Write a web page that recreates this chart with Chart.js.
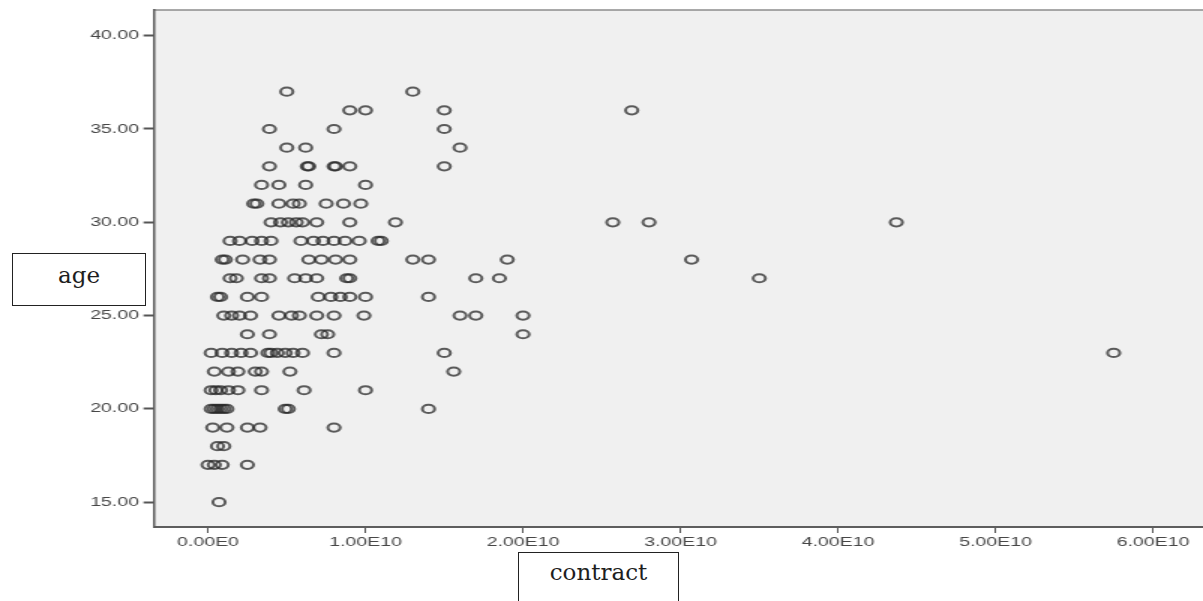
<!DOCTYPE html>
<html>
<head>
<meta charset="utf-8">
<script src="https://cdn.jsdelivr.net/npm/chart.js@4"></script>
<style>
html,body{margin:0;padding:0;background:#fff;width:1203px;height:601px;overflow:hidden;position:relative}
#wrap{position:absolute;left:0;top:0;width:802px;height:601px;transform:scaleX(1.5);transform-origin:0 0}
.box{position:absolute;border:1.5px solid #222;background:#fff;font-family:"DejaVu Serif",serif;font-size:23px;line-height:23px;color:#1e1e1e;box-sizing:border-box;text-align:center}
</style>
</head>
<body>
<div id="wrap"><canvas id="c" width="802" height="601"></canvas></div>
<div class="box" style="left:12px;top:253px;width:134px;height:53px;padding-top:10px;">age</div>
<div class="box" style="left:518px;top:552px;width:161px;height:60px;padding-top:8px;">contract</div>
<script>
// ---- data ----
const ages = [37, 36, 35, 34, 33, 32, 31, 30, 29, 28, 27, 26, 25, 24, 23, 22, 21, 20, 19, 18, 17, 15];
const contract37 = [0.50e10, 1.30e10];
const contract36 = [0.90e10, 1.00e10, 1.50e10, 2.69e10];
const contract35 = [0.39e10, 0.80e10, 1.50e10];
const contract34 = [0.50e10, 0.62e10, 1.60e10];
const contract33 = [0.39e10, 0.63e10, 0.64e10, 0.80e10, 0.81e10, 0.90e10, 1.50e10];
const contract32 = [0.34e10, 0.45e10, 0.62e10, 1.00e10];
const contract31 = [0.29e10, 0.31e10, 0.45e10, 0.54e10, 0.58e10, 0.75e10, 0.86e10, 0.97e10];
const contract30 = [0.40e10, 0.46e10, 0.51e10, 0.56e10, 0.60e10, 0.69e10, 0.90e10, 1.19e10, 2.57e10, 2.80e10, 4.37e10];
const contract29 = [0.14e10, 0.20e10, 0.28e10, 0.34e10, 0.40e10, 0.59e10, 0.67e10, 0.73e10, 0.80e10, 0.87e10, 0.96e10, 1.08e10, 1.10e10];
const contract28 = [0.09e10, 0.11e10, 0.22e10, 0.33e10, 0.39e10, 0.64e10, 0.72e10, 0.81e10, 0.90e10, 1.30e10, 1.40e10, 1.90e10, 3.07e10];
const contract27 = [0.14e10, 0.18e10, 0.34e10, 0.39e10, 0.55e10, 0.62e10, 0.69e10, 0.88e10, 0.90e10, 1.70e10, 1.85e10, 3.50e10];
const contract26 = [0.06e10, 0.08e10, 0.25e10, 0.34e10, 0.70e10, 0.78e10, 0.84e10, 0.90e10, 1.00e10, 1.40e10];
const contract25 = [0.10e10, 0.15e10, 0.20e10, 0.27e10, 0.45e10, 0.53e10, 0.58e10, 0.69e10, 0.80e10, 0.99e10, 1.60e10, 1.70e10, 2.00e10];
const contract24 = [0.25e10, 0.39e10, 0.72e10, 0.76e10, 2.00e10];
const contract23 = [0.02e10, 0.09e10, 0.15e10, 0.21e10, 0.27e10, 0.38e10, 0.40e10, 0.44e10, 0.49e10, 0.54e10, 0.60e10, 0.80e10, 1.50e10, 5.75e10];
const contract22 = [0.04e10, 0.13e10, 0.19e10, 0.30e10, 0.34e10, 0.52e10, 1.56e10];
const contract21 = [0.02e10, 0.05e10, 0.08e10, 0.13e10, 0.19e10, 0.34e10, 0.61e10, 1.00e10];
const contract20 = [0.02e10, 0.04e10, 0.06e10, 0.08e10, 0.10e10, 0.12e10, 0.49e10, 0.51e10, 1.40e10];
const contract19 = [0.03e10, 0.12e10, 0.25e10, 0.33e10, 0.80e10];
const contract18 = [0.06e10, 0.10e10];
const contract17 = [0.00e10, 0.04e10, 0.09e10, 0.25e10];
const contract15 = [0.07e10];
const contractByAge = [contract37, contract36, contract35, contract34, contract33, contract32, contract31, contract30,
  contract29, contract28, contract27, contract26, contract25, contract24, contract23, contract22, contract21,
  contract20, contract19, contract18, contract17, contract15];

const xTicks = [0, 1e10, 2e10, 3e10, 4e10, 5e10, 6e10];
const xTickLabels = ['0.00E0', '1.00E10', '2.00E10', '3.00E10', '4.00E10', '5.00E10', '6.00E10'];
const yTicks = [15, 20, 25, 30, 35, 40];
const yTickLabels = ['15.00', '20.00', '25.00', '30.00', '35.00', '40.00'];

// ---- build points ----
const points = [];
ages.forEach((a, i) => contractByAge[i].forEach(c => points.push({x: c, y: a})));

const plotFrame = {
  id: 'plotFrame',
  beforeDraw(chart) {
    const {ctx, chartArea: ca} = chart;
    ctx.save();
    ctx.fillStyle = '#f0f0f0';
    ctx.fillRect(ca.left, ca.top, chart.width - ca.left, ca.bottom - ca.top);
    ctx.strokeStyle = '#8c8c8c';
    ctx.lineWidth = 1.5;
    ctx.beginPath();
    ctx.moveTo(ca.left, ca.top);
    ctx.lineTo(chart.width, ca.top);
    ctx.stroke();
    ctx.restore();
  }
};

const tickFont = {family: '"Liberation Sans", Arial, sans-serif', size: 13};

new Chart(document.getElementById('c'), {
  type: 'scatter',
  data: {
    datasets: [{
      data: points,
      pointRadius: 4.1,
      pointHoverRadius: 4.1,
      borderWidth: 2,
      borderColor: 'rgba(40,40,40,0.75)',
      backgroundColor: 'rgba(0,0,0,0)'
    }]
  },
  options: {
    responsive: false,
    animation: false,
    devicePixelRatio: 1,
    events: [],
    layout: {autoPadding: false, padding: {top: 10, left: 0, right: 0, bottom: 0}},
    plugins: {legend: {display: false}, tooltip: {enabled: false}},
    scales: {
      x: {
        type: 'linear',
        min: -0.3429e10,
        max: 6.317e10,
        afterBuildTicks: s => { s.ticks = xTicks.map(v => ({value: v})); },
        afterFit: s => { s.height = 74; s.paddingLeft = 0; s.paddingRight = 0; },
        ticks: {
          autoSkip: false, maxRotation: 0, minRotation: 0, padding: 2,
          color: '#474747', font: tickFont,
          callback: (v) => { const i = xTicks.indexOf(v); return i >= 0 ? xTickLabels[i] : ''; }
        },
        grid: {drawOnChartArea: false, drawTicks: true, tickLength: 6, tickColor: '#555', tickWidth: 1},
        border: {display: true, color: '#5e5e5e', width: 2}
      },
      y: {
        type: 'linear',
        min: 13.67,
        max: 41.377,
        afterBuildTicks: s => { s.ticks = yTicks.map(v => ({value: v})); },
        afterFit: s => { s.width = 102.67; s.paddingTop = 0; s.paddingBottom = 0; },
        ticks: {
          autoSkip: false, padding: 3,
          color: '#474747', font: tickFont,
          callback: (v) => { const i = yTicks.indexOf(v); return i >= 0 ? yTickLabels[i] : ''; }
        },
        grid: {drawOnChartArea: false, drawTicks: true, tickLength: 7, tickColor: '#555', tickWidth: 2},
        border: {display: true, color: '#5a5a5a', width: 1.5}
      }
    }
  },
  plugins: [plotFrame]
});
</script>
</body>
</html>
